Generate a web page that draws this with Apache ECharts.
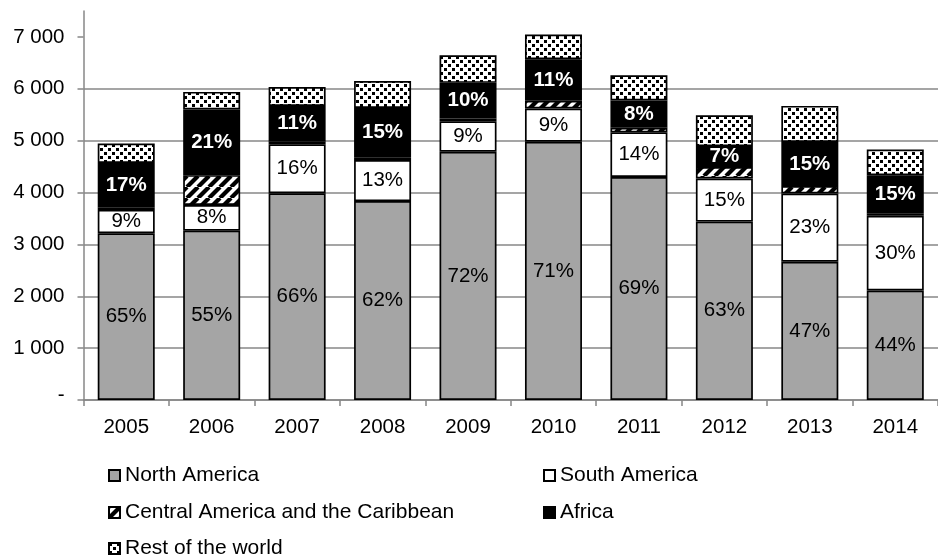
<!DOCTYPE html>
<html>
<head>
<meta charset="utf-8">
<title>Production by region, 2005–2014</title>
<script src="https://cdn.jsdelivr.net/npm/echarts@6/dist/echarts.min.js"></script>
<style>
  html, body { margin: 0; padding: 0; background: #fff; }
  #chart { width: 938px; height: 558px; }
</style>
</head>
<body>
<div id="chart"></div>
<script>
// Years on the category axis
const years = ['2005', '2006', '2007', '2008', '2009', '2010', '2011', '2012', '2013', '2014'];

// Stacked values per region
const northAmerica   = [3215, 3265, 3985, 3835, 4785, 4980, 4300, 3440, 2665, 2110];
const southAmerica   = [ 450,  495,  945,  790,  590,  640,  860,  830, 1315, 1440];
const centralAmerica = [  50,  575,   50,   55,   50,  150,   90,  220,  145,   40];
const africa         = [ 855, 1265,  690,  950,  690,  800,  525,  405,  850,  745];
const restOfWorld    = [ 375,  340,  365,  520,  530,  475,  485,  595,  695,  495];

// Value-axis ticks
const yTicks = [0, 1000, 2000, 3000, 4000, 5000, 6000, 7000];

const FONT = '"Liberation Sans", Arial, sans-serif';
const AXIS_GREY = '#878787';

const totals = years.map((_, i) =>
  northAmerica[i] + southAmerica[i] + centralAmerica[i] + africa[i] + restOfWorld[i]);
const pct = p => Math.round(p.value / totals[p.dataIndex] * 100) + '%';

// Pattern tiles for the hatched and speckled segments
function makeTile(w, h, draw) {
  const c = document.createElement('canvas');
  c.width = w; c.height = h;
  const ctx = c.getContext('2d');
  ctx.fillStyle = '#fff';
  ctx.fillRect(0, 0, w, h);
  draw(ctx, w, h);
  return c;
}
const stripeTile = makeTile(11, 11, (ctx, w, h) => {
  ctx.strokeStyle = '#000';
  ctx.lineWidth = 4.2;
  for (const o of [-w, 0, w]) {
    ctx.beginPath();
    ctx.moveTo(o, h);
    ctx.lineTo(o + w, 0);
    ctx.stroke();
  }
});
const confettiTile = makeTile(8, 8, (ctx) => {
  ctx.fillStyle = '#000';
  ctx.fillRect(0, 0, 3, 3);
  ctx.fillRect(4, 4, 3, 3);
});

const border = { borderColor: '#000', borderWidth: 1.7 };

function barSeries(name, data, fill, label) {
  return {
    name, type: 'bar', stack: 'total', data,
    barWidth: 57,
    itemStyle: Object.assign({ color: fill }, border),
    label: label || { show: false },
    emphasis: { disabled: true }
  };
}

const plainLabel = {
  show: true, position: 'inside', formatter: pct,
  color: '#000', fontSize: 20.5, fontFamily: FONT
};
const boldLabel = {
  show: true, position: 'inside', formatter: pct,
  color: '#fff', fontSize: 20.5, fontWeight: 'bold', fontFamily: FONT
};

const legendBase = {
  icon: 'rect', itemWidth: 11, itemHeight: 11, padding: 0,
  selectedMode: false,
  textStyle: { color: '#000', fontSize: 21, fontFamily: FONT }
};
const legends = [
  { data: ['North America'], left: 108, top: 465 },
  { data: ['South America'], left: 543, top: 465 },
  { data: ['Central America and the Caribbean'], left: 108, top: 502 },
  { data: ['Africa'], left: 543, top: 502 },
  { data: ['Rest of the world'], left: 108, top: 538 }
].map(l => Object.assign({}, legendBase, l));

const chart = echarts.init(document.getElementById('chart'), null, { renderer: 'canvas' });
chart.setOption({
  animation: false,
  backgroundColor: '#fff',
  textStyle: { fontFamily: FONT },
  legend: legends,
  grid: { left: 83.5, top: 11, width: 867, height: 389, containLabel: false },
  xAxis: {
    type: 'category',
    data: years,
    axisLine: { lineStyle: { color: AXIS_GREY, width: 1.5 } },
    axisTick: { show: true, length: 6, lineStyle: { color: AXIS_GREY, width: 1.5 } },
    axisLabel: { color: '#000', fontSize: 20.5, fontFamily: FONT, margin: 17 }
  },
  yAxis: {
    type: 'value',
    min: 0, max: 7500, interval: 1000,
    axisLine: { show: true, lineStyle: { color: AXIS_GREY, width: 1.5 } },
    axisTick: { show: true, length: 6, customValues: yTicks, lineStyle: { color: AXIS_GREY, width: 1.5 } },
    splitLine: { show: true, showMaxLine: false, lineStyle: { color: AXIS_GREY, width: 1.5 } },
    axisLabel: {
      customValues: yTicks,
      color: '#000', fontSize: 20.5, fontFamily: FONT, margin: 19,
      formatter: v => v === 0 ? '{z|-}' : String(v).replace(/\B(?=(\d{3})+(?!\d))/g, ' '),
      rich: { z: { fontSize: 20.5, fontFamily: FONT, color: '#000', padding: [0, 0, 10, 0] } }
    }
  },
  series: [
    barSeries('North America', northAmerica, '#a5a5a5', plainLabel),
    barSeries('South America', southAmerica, '#ffffff', plainLabel),
    barSeries('Central America and the Caribbean', centralAmerica, { image: stripeTile, repeat: 'repeat' }),
    barSeries('Africa', africa, '#000000', boldLabel),
    barSeries('Rest of the world', restOfWorld, { image: confettiTile, repeat: 'repeat' })
  ]
});
</script>
</body>
</html>
